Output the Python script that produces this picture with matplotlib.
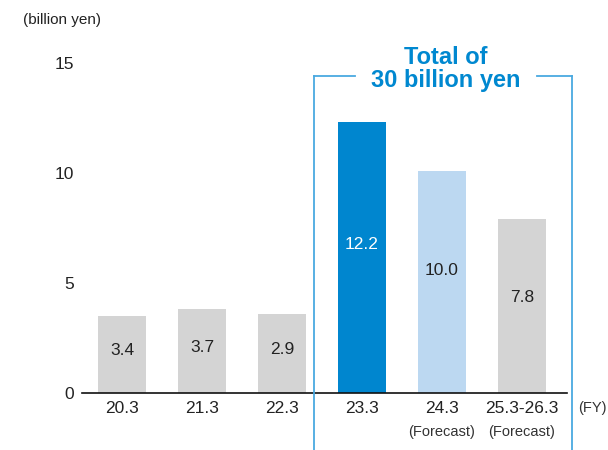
import matplotlib.pyplot as plt
from matplotlib.lines import Line2D

plt.rcParams['font.family'] = ['Liberation Sans', 'DejaVu Sans']

categories = ["20.3", "21.3", "22.3", "23.3", "24.3", "25.3-26.3"]
sublabels = ["", "", "", "", "(Forecast)", "(Forecast)"]
heights = [3.5, 3.8, 3.6, 12.3, 10.1, 7.9]
value_labels = ["3.4", "3.7", "2.9", "12.2", "10.0", "7.8"]
colors = ["#d4d4d4", "#d4d4d4", "#d4d4d4", "#0086cf", "#bcd8f1", "#d4d4d4"]
text_colors = ["#222222", "#222222", "#222222", "white", "#222222", "#222222"]
yticks = [0, 5, 10, 15]

fig = plt.figure(figsize=(6.08, 4.5), dpi=100)
ax = fig.add_axes([82/608, 1-393/450, (567-82)/608, 330/450])
x = list(range(len(categories)))
ax.bar(x, heights, width=0.6, color=colors, zorder=2)
for xi, h, lab, tc in zip(x, heights, value_labels, text_colors):
    ax.text(xi, h*0.55, lab, ha='center', va='center', fontsize=12.5, color=tc)

ax.set_xlim(-0.5, 5.5625)
ax.set_ylim(0, 15)
ax.set_yticks(yticks)
ax.set_yticklabels([str(t) for t in yticks], fontsize=12.5, color='#222222')
ax.set_xticks(x)
ax.set_xticklabels(categories, fontsize=12.5, color='#222222')
ax.tick_params(axis='both', length=0)
ax.tick_params(axis='y', pad=6)
ax.tick_params(axis='x', pad=6)
for s in ['top', 'right', 'left']:
    ax.spines[s].set_visible(False)
ax.spines['bottom'].set_color('#111111')
ax.spines['bottom'].set_linewidth(1.2)

for xi, sl in zip(x, sublabels):
    if sl:
        ax.annotate(sl, xy=(xi, 0), xycoords='data', xytext=(0, -28), textcoords='offset points',
                    ha='center', va='center', fontsize=10.5, color='#333333', annotation_clip=False)

fig.text(578/608, 1-408/450, "(FY)", fontsize=10.5, color='#333333', ha='left', va='center')
fig.text(23/608, 1-20/450, "(billion yen)", fontsize=11, color='#222222', ha='left', va='center')

# bracket
bc = '#4aa9e0'
lx, rx, ty = 314/608, 572/608, 1-76/450
fig.add_artist(Line2D([lx, lx], [0, ty], color=bc, lw=1.3))
fig.add_artist(Line2D([rx, rx], [0, ty], color=bc, lw=1.3))
fig.add_artist(Line2D([lx, 355/608], [ty, ty], color=bc, lw=1.3))
fig.add_artist(Line2D([537/608, rx], [ty, ty], color=bc, lw=1.3))
fig.text(446/608, 1-58/450, "Total of", fontsize=17, fontweight='bold', color='#0088d0', ha='center', va='center')
fig.text(446/608, 1-81/450, "30 billion yen", fontsize=17, fontweight='bold', color='#0088d0', ha='center', va='center')

fig.savefig('out.png', dpi=100)
